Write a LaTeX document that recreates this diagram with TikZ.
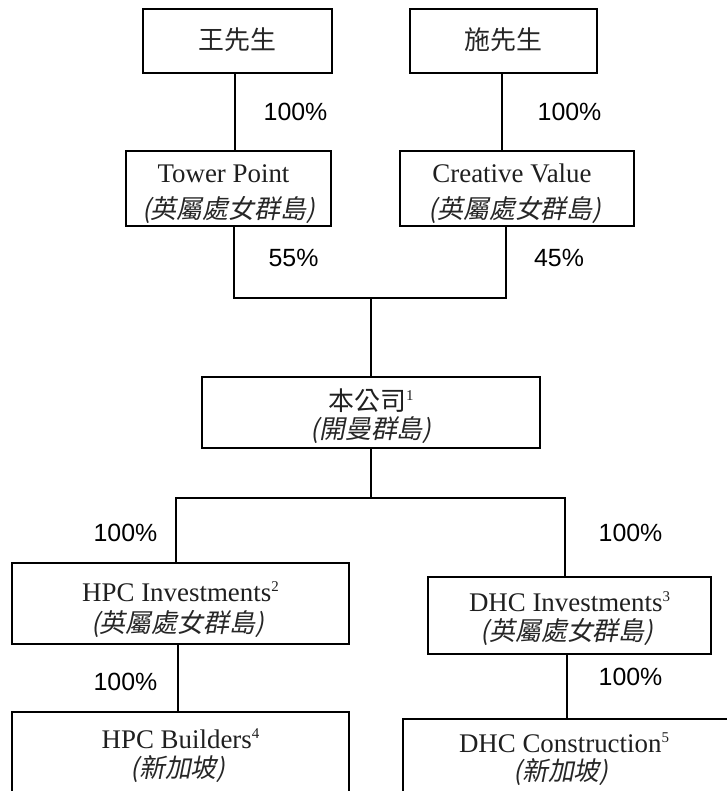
\documentclass[tikz,border=0pt]{standalone}
\usepackage{fontspec}
\setmainfont{Liberation Serif}
\newfontfamily\cjk{Noto Sans CJK TC}
\newfontfamily\cjkit[FakeSlant=0.2]{Noto Sans CJK TC}
\newfontfamily\pct{Liberation Sans}
\newcommand{\supn}[1]{\raisebox{10bp}{\fontsize{15}{15}\selectfont #1}}
\begin{document}
\begin{tikzpicture}[x=1bp,y=-1bp,
  box/.style={draw=black,line width=1.8bp,rectangle,inner sep=0pt},
  lat/.style={anchor=base,inner sep=0pt,text=black!88,font=\fontsize{27}{27}\selectfont},
  cj/.style={anchor=base,inner sep=0pt,text=black!85,font=\cjk\fontsize{26}{26}\selectfont},
  cji/.style={anchor=base,inner sep=0pt,text=black!85,font=\cjkit\fontsize{26}{26}\selectfont},
  pctlabel/.style={inner sep=0pt,font=\pct\fontsize{25}{25}\selectfont},
  link/.style={draw=black,line width=2bp},
  thick link/.style={draw=black,line width=2.6bp}]
\useasboundingbox (0,0) rectangle (727,791);
\clip (0,0) rectangle (727,791);
% boxes
\node[box,minimum width=189bp,minimum height=64bp] (wang) at (237.5,41) {};
\node[box,minimum width=187bp,minimum height=64bp] (shi) at (503.5,41) {};
\node[box,minimum width=205bp,minimum height=75bp] (tp) at (228.5,188.5) {};
\node[box,minimum width=234bp,minimum height=75bp] (cv) at (517,188.5) {};
\node[box,minimum width=338bp,minimum height=71bp] (co) at (371,412.5) {};
\node[box,minimum width=337bp,minimum height=81bp] (hpci) at (180.5,603.5) {};
\node[box,minimum width=283bp,minimum height=77bp] (dhci) at (569.5,615.5) {};
\node[box,minimum width=337bp,minimum height=84bp] (hpcb) at (180.5,754) {};
\node[box,minimum width=328bp,minimum height=76bp] (dhcc) at (567,757) {};
% texts
\node[cj] (wang-t) at (237.5,50) {王先生};
\node[cj] (shi-t) at (503.5,50) {施先生};
\node[lat] (tp-t1) at (223.5,182) {Tower Point};
\node[cji] (tp-t2) at (228.5,218) {(英屬處女群島)};
\node[lat] (cv-t1) at (512,182) {Creative Value};
\node[cji] (cv-t2) at (515,218) {(英屬處女群島)};
\node[lat] (co-t1) at (371,410) {{\cjk\fontsize{26}{26}\selectfont 本公司}\supn{1}};
\node[cji] (co-t2) at (371,438) {(開曼群島)};
\node[lat] (hpci-t1) at (180.5,601) {HPC Investments\supn{2}};
\node[cji] (hpci-t2) at (177.5,632) {(英屬處女群島)};
\node[lat] (dhci-t1) at (569.5,611) {DHC Investments\supn{3}};
\node[cji] (dhci-t2) at (567,640) {(英屬處女群島)};
\node[lat] (hpcb-t1) at (180.5,748) {HPC Builders\supn{4}};
\node[cji] (hpcb-t2) at (178,777) {(新加坡)};
\node[lat] (dhcc-t1) at (564,752) {DHC Construction\supn{5}};
\node[cji] (dhcc-t2) at (561,780) {(新加坡)};
% junctions
\coordinate (j1) at (371,298);
\coordinate (j2) at (371,498);
% connectors
\draw[thick link] ([xshift=-2.5bp]wang.south) -- ([xshift=-2.5bp]wang.south |- tp.north);
\draw[link] ([xshift=-1.5bp]shi.south) -- ([xshift=-1.5bp]shi.south |- cv.north);
\draw[link] ([xshift=5.5bp]tp.south) |- (j1) -| ([xshift=-11bp]cv.south);
\draw[link] (j1) -- (co.north);
\draw[link] (co.south) -- (j2);
\draw[thick link] (j2) -| ([xshift=-4.5bp]hpci.north);
\draw[link] (j2) -| ([xshift=-4.5bp]dhci.north);
\draw[link] ([xshift=-2.5bp]hpci.south) -- ([xshift=-2.5bp]hpci.south |- hpcb.north);
\draw[link] ([xshift=-2.5bp]dhci.south) -- ([xshift=-2.5bp]dhci.south |- dhcc.north);
% percentage labels
\node[pctlabel] (p1) at (295.5,112) {100\%};
\node[pctlabel] (p2) at (569.5,112) {100\%};
\node[pctlabel] (p3) at (293.5,258) {55\%};
\node[pctlabel] (p4) at (559,258) {45\%};
\node[pctlabel] (p5) at (125.5,533) {100\%};
\node[pctlabel] (p6) at (630.5,533) {100\%};
\node[pctlabel] (p7) at (125.5,682) {100\%};
\node[pctlabel] (p8) at (630.5,677) {100\%};
\end{tikzpicture}
\end{document}
